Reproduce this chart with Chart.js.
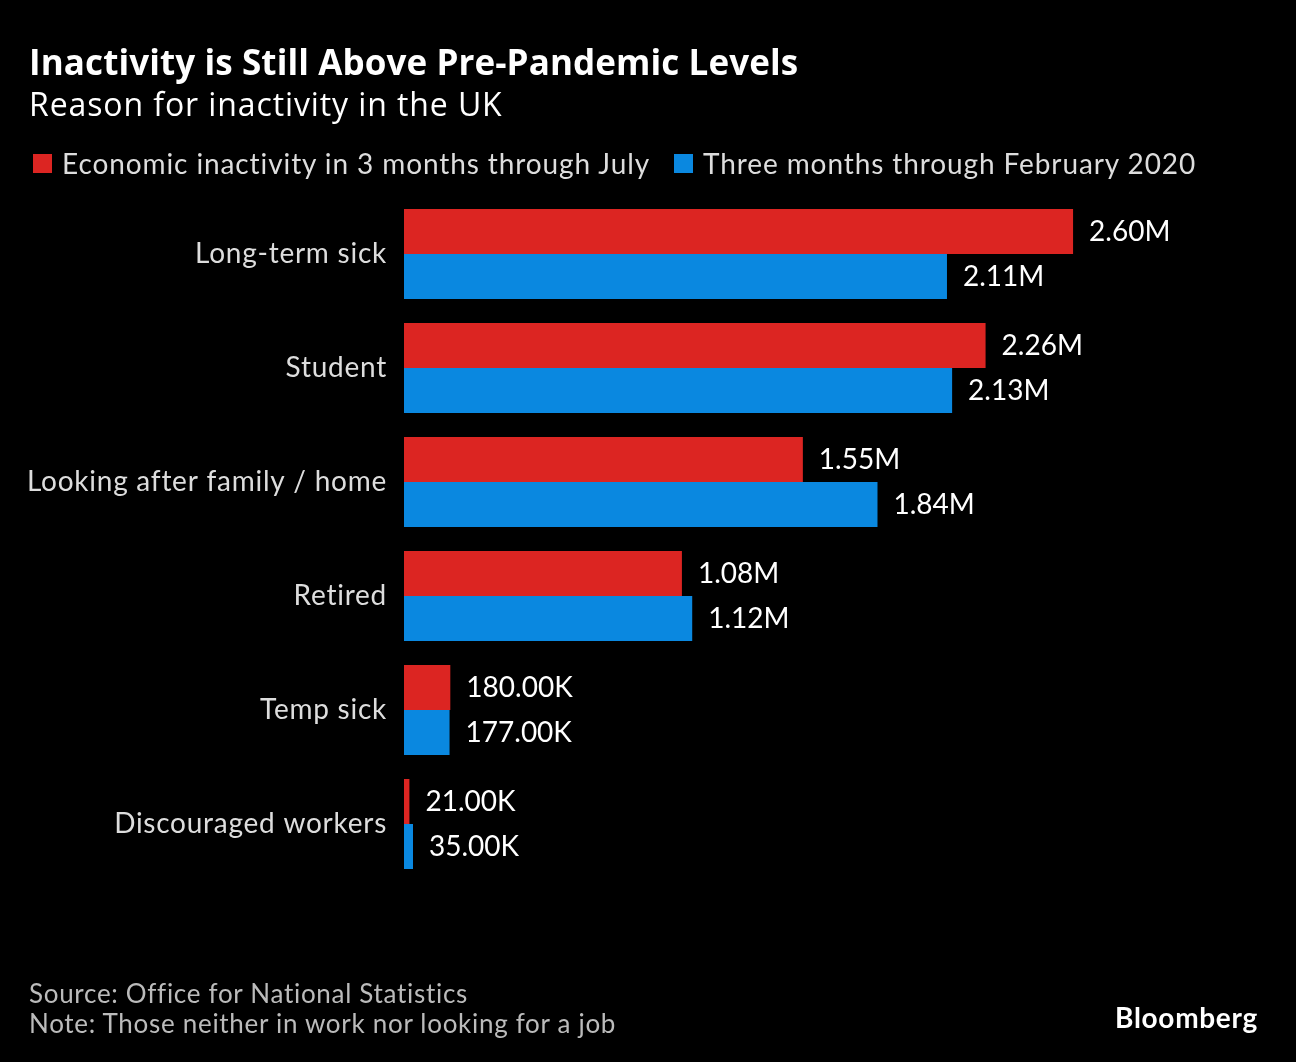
<!DOCTYPE html>
<html>
<head>
<meta charset="utf-8">
<script src="https://cdn.jsdelivr.net/npm/chart.js@4.4.1/dist/chart.umd.min.js"></script>
<style>
  html, body { margin: 0; padding: 0; background: #000; }
  body { width: 1296px; height: 1062px; position: relative; overflow: hidden; font-family: Lato, "Noto Sans", sans-serif; }
  #chartBox { position: absolute; left: 0; top: 0; width: 1296px; height: 1062px; }
  .txt { position: absolute; white-space: nowrap; }
  #title { left: 29px; top: 38px; font-family: "Open Sans", sans-serif; font-size: 35px; font-weight: 700; color: #fff; letter-spacing: 0.1px; }
  #subtitle { left: 29px; top: 82px; font-family: "Open Sans", sans-serif; font-size: 32px; color: #fff; letter-spacing: 0.9px; }
  #legend { left: 33px; top: 146px; font-size: 28px; color: #ddd; display: flex; align-items: center; letter-spacing: 0.9px; }
  #legend .sw { display: inline-block; width: 19px; height: 19px; margin-right: 10px; }
  #legend .item { display: flex; align-items: center; margin-right: 24px; }
  #source { left: 29px; top: 978px; font-size: 26px; color: #bbb; line-height: 30px; letter-spacing: 0.7px; }
  #logo { left: 1115px; top: 1000px; font-size: 28px; font-weight: 700; color: #fff; letter-spacing: 0.7px; }
</style>
</head>
<body>
<div id="chartBox"><canvas id="chart" width="1296" height="1062"></canvas></div>
<div class="txt" id="title">Inactivity is Still Above Pre-Pandemic Levels</div>
<div class="txt" id="subtitle">Reason for inactivity in the UK</div>
<div class="txt" id="legend">
  <span class="item"><span class="sw" style="background:#dc2522"></span>Economic inactivity in 3 months through July</span>
  <span class="item"><span class="sw" style="background:#0a88e0"></span>Three months through February 2020</span>
</div>
<div class="txt" id="source">Source: Office for National Statistics<br>Note: Those neither in work nor looking for a job</div>
<div class="txt" id="logo">Bloomberg</div>
<script>
// values in thousands
const categories = ['Long-term sick', 'Student', 'Looking after family / home', 'Retired', 'Temp sick', 'Discouraged workers'];
const recentValues = [2600, 2260, 1550, 1080, 180, 21];
const preCovidValues = [2110, 2130, 1840, 1120, 177, 35];
const seriesNames = ['Economic inactivity in 3 months through July', 'Three months through February 2020'];

const RED = '#dc2522';
const BLUE = '#0a88e0';

function formatValue(v) {
  if (v >= 1000) return (v / 1000).toFixed(2) + 'M';
  return v.toFixed(2) + 'K';
}

// slightly wider letters for the category labels
const spacing = {
  id: 'spacing',
  beforeDraw(chart) { chart.ctx.letterSpacing = '0.75px'; }
};

// draws the value label just past the end of each bar
const valueLabels = {
  id: 'valueLabels',
  afterDatasetsDraw(chart) {
    const ctx = chart.ctx;
    ctx.save();
    ctx.letterSpacing = '0px';
    ctx.font = '28px Lato, "Noto Sans", sans-serif';
    ctx.fillStyle = '#fff';
    ctx.textAlign = 'left';
    ctx.textBaseline = 'middle';
    chart.data.datasets.forEach((ds, i) => {
      const meta = chart.getDatasetMeta(i);
      meta.data.forEach((bar, j) => {
        ctx.fillText(formatValue(ds.data[j]), bar.x + 16, bar.y);
      });
    });
    ctx.restore();
  }
};

new Chart(document.getElementById('chart'), {
  type: 'bar',
  data: {
    labels: categories,
    datasets: [
      { label: seriesNames[0], data: recentValues, backgroundColor: RED },
      { label: seriesNames[1], data: preCovidValues, backgroundColor: BLUE }
    ]
  },
  options: {
    indexAxis: 'y',
    responsive: false,
    animation: false,
    layout: { padding: { top: 197, bottom: 181, left: 0, right: 120 } },
    datasets: { bar: { categoryPercentage: 0.79, barPercentage: 1.0 } },
    plugins: {
      legend: { display: false },
      title: { display: false },
      tooltip: { enabled: false }
    },
    scales: {
      x: {
        display: false,
        min: 0,
        max: 3000
      },
      y: {
        grid: { display: false, drawTicks: false },
        border: { display: false },
        afterFit(scale) { scale.width = 404; },
        ticks: {
          color: '#ddd',
          padding: 17,
          font: { family: 'Lato, "Noto Sans", sans-serif', size: 28 }
        }
      }
    }
  },
  plugins: [spacing, valueLabels]
});
</script>
</body>
</html>
